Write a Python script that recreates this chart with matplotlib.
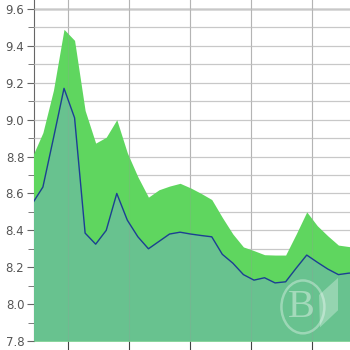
"""
Area chart: lower series (blue line, teal fill) with an upper band (green) on top.
"""
import matplotlib
matplotlib.use("Agg")
import matplotlib.pyplot as plt
import matplotlib.ticker as mticker
from matplotlib.patches import Ellipse, Polygon

# ── data ────────────────────────────────────────────────────────────────────
idx = list(range(32))
lower = [8.545, 8.635, 8.90, 9.17, 9.01, 8.385, 8.325, 8.40, 8.60, 8.455,
         8.365, 8.30, 8.34, 8.38, 8.39, 8.38, 8.372, 8.365, 8.27, 8.222,
         8.16, 8.13, 8.143, 8.115, 8.121, 8.195, 8.266, 8.227, 8.19, 8.16,
         8.168, 8.17]
upper = [8.80, 8.93, 9.16, 9.49, 9.43, 9.05, 8.873, 8.905, 9.00, 8.82,
         8.69, 8.58, 8.62, 8.64, 8.655, 8.63, 8.60, 8.567, 8.47, 8.38,
         8.31, 8.29, 8.268, 8.266, 8.266, 8.38, 8.50, 8.425, 8.37, 8.32,
         8.312, 8.31]
x_grid = [3.38, 9.16, 14.94, 20.72, 26.5]

LOW_C = "#68c28f"
UP_C = "#5fd65f"
LINE_C = "#1c3f94"

fig = plt.figure(figsize=(3.5, 3.5), dpi=100)
ax = fig.add_axes([34 / 350, 9 / 350, 316 / 350, 341 / 350])

ax.set_xlim(0.156, 30.1)
ax.set_ylim(7.8, 9.649)

ax.fill_between(idx, 7.8, upper, color=UP_C, lw=0, zorder=2)
ax.fill_between(idx, 7.8, lower, color=LOW_C, lw=0, zorder=3)
ax.plot(idx, lower, color=LINE_C, lw=1.0, zorder=5)

# grid
ax.yaxis.set_major_locator(mticker.MultipleLocator(0.2))
ax.yaxis.set_minor_locator(mticker.MultipleLocator(0.1))
ax.yaxis.set_major_formatter(mticker.FormatStrFormatter("%.1f"))
ax.grid(axis="y", which="both", color="#c8c8c8", lw=0.9, zorder=1)
ax.axhline(9.6, color="#555555", lw=1.0, zorder=1)
ax.set_xticks(x_grid)
ax.set_xticklabels([])
for xv in x_grid:
    ax.axvline(xv, color="#9a9a9a", lw=0.8, alpha=0.25, zorder=4)
    ax.axvline(xv, color="#bdbdbd", lw=0.8, zorder=1)

for s in ["top", "right", "bottom"]:
    ax.spines[s].set_visible(False)
ax.spines["left"].set_color("#666666")
ax.spines["left"].set_zorder(1)
ax.tick_params(axis="y", which="major", length=5, color="#666666",
               labelsize=8.5, labelcolor="#555555", pad=2)
ax.tick_params(axis="y", which="minor", length=4, color="#666666")
ax.tick_params(axis="x", length=9, color="#444444", direction="out")

# faint watermark
ax.add_patch(Ellipse((0.851, 0.100), 0.136, 0.155, transform=ax.transAxes,
                     fill=False, ec="white", lw=1.8, alpha=0.35, zorder=6))
ax.text(0.846, 0.098, "B", transform=ax.transAxes, ha="center", va="center",
        fontsize=29, family="Liberation Serif", color="white", alpha=0.4,
        zorder=6)
ax.add_patch(Polygon([(0.902, 0.135), (0.962, 0.185), (0.962, 0.09), (0.905, 0.04)],
                     closed=True, transform=ax.transAxes, fc="white", ec="none",
                     alpha=0.3, zorder=6))

fig.savefig("out.png", dpi=100)
